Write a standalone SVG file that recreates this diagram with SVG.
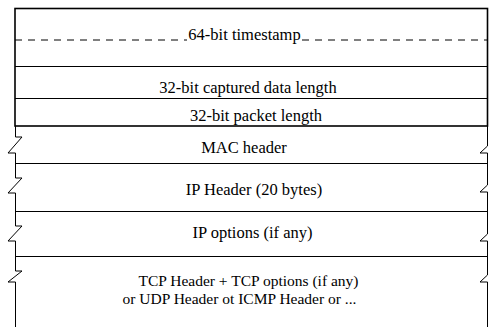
<svg xmlns="http://www.w3.org/2000/svg" width="490" height="327" viewBox="0 0 490 327">
<style>
.t{font-family:"Liberation Serif","Times New Roman",serif;font-size:16.5px;fill:#000;text-anchor:middle}
.s{font-size:15.5px}
.ln{stroke:#000;stroke-width:1;fill:none}
.bd{stroke:#000;stroke-width:1.6;fill:none}
.ds{stroke:#000;stroke-width:1;stroke-dasharray:7 6;fill:none}
</style>
<rect x="0" y="0" width="490" height="327" fill="#fff"/>
<g id="connectors">
<line class="ds" x1="15" y1="40" x2="187" y2="40"/>
<line class="ds" x1="302" y1="40" x2="487" y2="40"/>
<line class="ln" x1="15" y1="66.5" x2="487" y2="66.5"/>
<line class="ln" x1="15" y1="98.5" x2="487" y2="98.5"/>
<line class="ln" x1="15" y1="163.5" x2="487" y2="163.5"/>
<line class="ln" x1="15" y1="211.5" x2="487" y2="211.5"/>
<line class="ln" x1="15" y1="256.5" x2="487" y2="256.5"/>
<path class="ln" d="M15.5,126 V137 H22 L8,153 H15.5 V178 H22 L8,193 H15.5 V226 H22 L8,241 H15.5 V271 H22 L8,282 H15.5 V327"/>
<path class="ln" d="M487.5,126 V146 L480,153 H487.5 V185 L480,192 H487.5 V234 L480,241 H487.5 V275 L480,282 H487.5 V327"/>
<rect class="bd" x="15" y="8.5" width="472.5" height="117.5"/>
</g>
<g id="timestamp"><text class="t" x="244.5" y="40">64-bit timestamp</text></g>
<g id="captured-length"><text class="t" x="248" y="93">32-bit captured data length</text></g>
<g id="packet-length"><text class="t" x="256" y="121">32-bit packet length</text></g>
<g id="mac-header"><text class="t" x="244" y="153">MAC header</text></g>
<g id="ip-header"><text class="t" x="254" y="195">IP Header (20 bytes)</text></g>
<g id="ip-options"><text class="t" x="252.5" y="238">IP options (if any)</text></g>
<g id="transport-header"><text class="t s" x="248.5" y="286">TCP Header + TCP options (if any)</text><text class="t s" x="239.5" y="304">or UDP Header ot ICMP Header or ...</text></g>
</svg>
